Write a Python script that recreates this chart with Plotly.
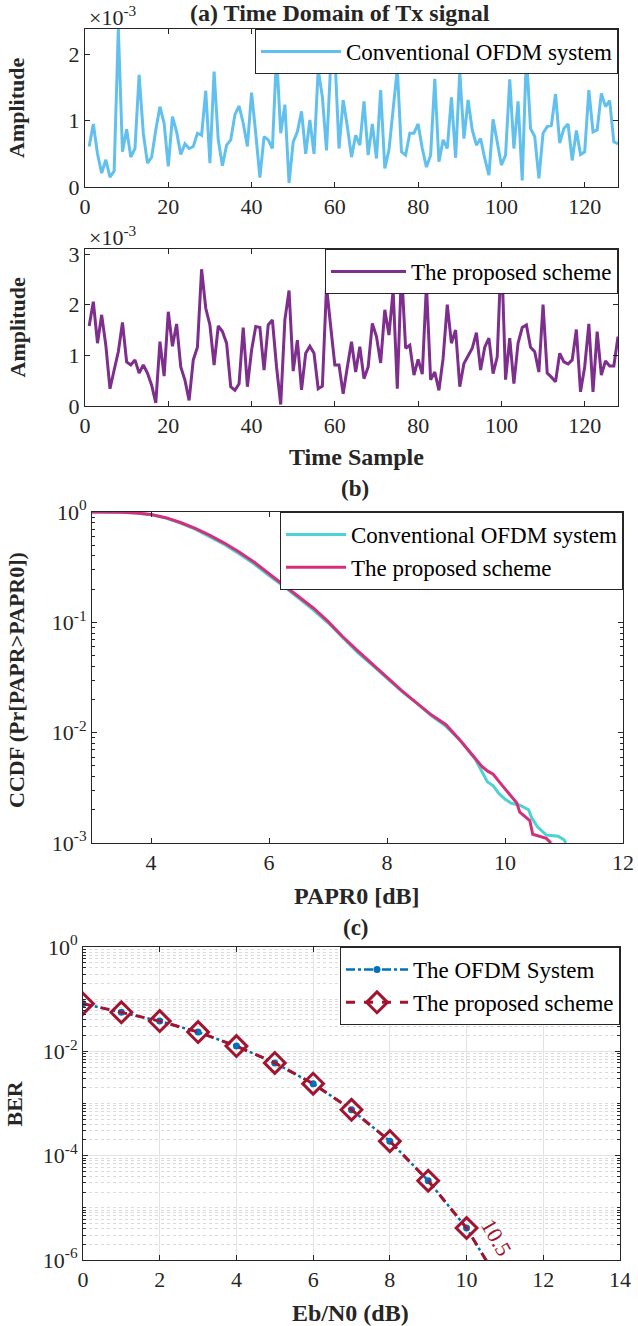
import plotly.graph_objects as go

# (a) time domain, conventional OFDM (amplitude in units of 1e-3)
samples = list(range(1, 129))
amp_conv = [0.61, 0.95, 0.50, 0.21, 0.41, 0.15, 0.24, 2.38, 0.53, 0.87,
            0.45, 0.58, 1.69, 0.81, 0.36, 0.45, 0.86, 1.21, 0.96, 0.31,
            1.06, 0.83, 0.49, 0.65, 0.58, 0.61, 0.81, 0.78, 1.45, 0.36,
            1.74, 0.71, 0.32, 0.63, 0.71, 1.09, 1.22, 0.96, 0.61, 1.42,
            0.81, 0.14, 0.76, 0.71, 0.58, 2.00, 0.81, 1.24, 0.06, 0.68,
            0.83, 1.14, 0.50, 1.01, 0.50, 1.77, 1.36, 0.55, 1.85, 2.00,
            0.58, 1.31, 0.91, 0.45, 0.78, 0.63, 1.29, 0.48, 0.95, 0.43,
            1.46, 0.28, 0.56, 1.16, 1.78, 0.53, 0.48, 0.81, 0.81, 0.95,
            0.58, 0.30, 0.48, 1.63, 0.38, 0.71, 0.58, 1.35, 0.44, 1.73,
            0.73, 1.31, 0.86, 0.63, 0.73, 0.43, 0.18, 1.02, 0.66, 0.33,
            0.48, 1.62, 0.58, 1.29, 0.10, 2.00, 0.88, 0.76, 0.13, 0.81,
            0.91, 0.93, 1.40, 0.66, 0.88, 0.95, 0.40, 0.85, 0.49, 0.53,
            1.46, 0.83, 0.86, 1.41, 1.21, 1.30, 0.68, 0.65]

# (a) time domain, proposed scheme (amplitude in units of 1e-3)
amp_prop = [1.58, 2.06, 1.24, 1.80, 1.20, 0.34, 0.71, 1.07, 1.65, 0.87,
            0.81, 0.91, 0.65, 0.81, 0.65, 0.41, 0.06, 1.27, 0.59, 1.86,
            1.18, 1.62, 0.77, 0.51, 0.11, 0.91, 1.16, 2.70, 1.93, 1.60,
            0.81, 1.58, 1.47, 1.24, 0.38, 0.31, 0.44, 1.55, 0.38, 1.10,
            1.57, 1.55, 0.71, 1.60, 1.70, 0.77, 0.03, 1.70, 2.28, 0.69,
            1.30, 0.32, 1.04, 1.18, 1.04, 0.34, 0.39, 2.36, 1.57, 0.81,
            0.81, 0.24, 0.77, 1.27, 0.67, 1.17, 0.54, 0.77, 1.63, 1.37,
            0.85, 1.90, 1.40, 2.29, 0.34, 2.70, 1.14, 1.20, 0.61, 0.92,
            0.63, 2.39, 0.52, 0.67, 0.31, 0.94, 2.00, 1.24, 1.50, 0.38,
            0.84, 1.00, 1.14, 1.45, 0.71, 1.16, 1.34, 0.64, 0.97, 3.10,
            0.52, 1.34, 0.44, 1.24, 1.55, 1.60, 1.16, 1.07, 0.67, 2.00,
            0.65, 0.57, 0.48, 1.04, 0.87, 0.83, 0.91, 1.51, 0.28, 0.77,
            1.62, 0.28, 1.47, 0.61, 0.89, 0.79, 0.79, 1.37]

# (b) CCDF of PAPR
papr_conv = [3.0, 3.25, 3.5, 3.75, 4.0, 4.25, 4.5, 4.75, 5.0, 5.25, 5.5, 5.75,
             6.0, 6.25, 6.5, 6.75, 7.0, 7.25, 7.5, 7.75, 8.0, 8.25, 8.5, 8.75,
             9.0, 9.25, 9.5, 9.6, 9.7, 9.8, 9.9, 10.0, 10.1, 10.25, 10.4, 10.45,
             10.55, 10.7, 10.9, 11.0, 11.03]
ccdf_conv = [1.0, 1.0, 0.997, 0.98, 0.946, 0.882, 0.795, 0.70, 0.60, 0.506,
             0.416, 0.338, 0.265, 0.212, 0.166, 0.130, 0.099, 0.072, 0.0535,
             0.041, 0.0313, 0.0237, 0.0186, 0.0143, 0.0114, 0.0084, 0.0057,
             0.0046, 0.0036, 0.0033, 0.0028, 0.0025, 0.0023, 0.0022, 0.0020,
             0.0017, 0.0014, 0.00118, 0.00115, 0.00107, 0.001]
papr_prop = [3.0, 3.25, 3.5, 3.75, 4.0, 4.25, 4.5, 4.75, 5.0, 5.25, 5.5, 5.75,
             6.0, 6.25, 6.5, 6.75, 7.0, 7.25, 7.5, 7.75, 8.0, 8.25, 8.5, 8.75,
             9.0, 9.25, 9.5, 9.6, 9.7, 9.8, 9.9, 10.0, 10.1, 10.2, 10.25, 10.35,
             10.42, 10.47, 10.7, 10.78]
ccdf_prop = [1.0, 1.0, 0.997, 0.98, 0.948, 0.888, 0.803, 0.71, 0.614, 0.52,
             0.431, 0.35, 0.276, 0.221, 0.172, 0.135, 0.102, 0.074, 0.0554,
             0.042, 0.0318, 0.024, 0.0186, 0.0145, 0.0118, 0.0084, 0.0058,
             0.0050, 0.0045, 0.0042, 0.0036, 0.0031, 0.0027, 0.0023, 0.0019,
             0.0017, 0.0016, 0.0012, 0.0011, 0.001]

# (c) BER
ebn0 = [0, 1, 2, 3, 4, 5, 6, 7, 8, 9, 10, 11]
ber_ofdm = [0.082, 0.056, 0.038, 0.0234, 0.0126, 0.0060, 0.0024, 7.6e-4,
            1.9e-4, 3.3e-5, 4.1e-6, 2.5e-7]
ber_prop = [0.082, 0.056, 0.038, 0.0234, 0.0126, 0.0060, 0.0024, 7.6e-4,
            1.9e-4, 3.3e-5, 4.1e-6, 2.5e-7]

W, H = 638, 1326
FONT = "Liberation Serif, Times New Roman, serif"
TXT = "#262626"


def px_x(p):
    return p / W


def px_y(p):
    return 1 - p / H


fig = go.Figure()

fig.add_trace(go.Scatter(x=samples, y=amp_conv, mode="lines", name="Conventional OFDM system",
                         line=dict(color="#62C0EE", width=3), xaxis="x", yaxis="y", legend="legend"))
fig.add_trace(go.Scatter(x=samples, y=amp_prop, mode="lines", name="The proposed scheme",
                         line=dict(color="#7E2F8E", width=3), xaxis="x2", yaxis="y2", legend="legend2"))
fig.add_trace(go.Scatter(x=papr_conv, y=ccdf_conv, mode="lines", name="Conventional OFDM system",
                         line=dict(color="#4CD2D2", width=3), xaxis="x3", yaxis="y3", legend="legend3"))
fig.add_trace(go.Scatter(x=papr_prop, y=ccdf_prop, mode="lines", name="The proposed scheme",
                         line=dict(color="#D3307C", width=3), xaxis="x3", yaxis="y3", legend="legend3"))
fig.add_trace(go.Scatter(x=ebn0, y=ber_ofdm, mode="lines+markers", name="The OFDM System",
                         line=dict(color="#0072BD", width=2.5, dash="dashdot"),
                         marker=dict(symbol="circle", size=7, color="#0072BD"),
                         xaxis="x4", yaxis="y4", legend="legend4"))
fig.add_trace(go.Scatter(x=ebn0, y=ber_prop, mode="lines+markers", name="The proposed scheme",
                         line=dict(color="#A2142F", width=3, dash="dash"),
                         marker=dict(symbol="diamond-open", size=16, color="#A2142F",
                                     line=dict(color="#A2142F", width=3)),
                         xaxis="x4", yaxis="y4", legend="legend4"))

axis_common = dict(showline=True, linecolor=TXT, linewidth=1, mirror="ticks", ticks="inside",
                   ticklen=5, tickcolor=TXT, tickfont=dict(family=FONT, size=22, color=TXT),
                   showgrid=False, zeroline=False, automargin=False)

dom_a_x = [px_x(85), px_x(618)]
dom_a_y = [px_y(187), px_y(29)]
dom_b_y = [px_y(406), px_y(249)]
dom_c_x = [px_x(92), px_x(623)]
dom_c_y = [px_y(843), px_y(512)]
dom_d_x = [px_x(83), px_x(620)]
dom_d_y = [px_y(1260), px_y(947)]

sup = lambda e: "10<sup>%d</sup>" % e
ccdf_major = [1, 0.1, 0.01, 0.001]
ccdf_minor = [k * 10 ** d for d in (-3, -2, -1) for k in range(2, 10)]
ber_major = [1, 1e-2, 1e-4, 1e-6]
ber_minor = [k * 10 ** d for d in (-6, -5, -4, -3, -2, -1) for k in range(1, 10)
             if not (k == 1 and d in (-6, -4, -2))]

fig.update_layout(
    template="none",
    width=W, height=H, margin=dict(l=0, r=0, t=0, b=0, autoexpand=False),
    paper_bgcolor="white", plot_bgcolor="white", showlegend=True,
    font=dict(family=FONT, color=TXT),
    xaxis=dict(axis_common, domain=dom_a_x, anchor="y", range=[0, 128], tickvals=[0, 20, 40, 60, 80, 100, 120]),
    yaxis=dict(axis_common, domain=dom_a_y, anchor="x", range=[0, max(amp_conv)], tickvals=[0, 1, 2]),
    xaxis2=dict(axis_common, domain=dom_a_x, anchor="y2", range=[0, 128], tickvals=[0, 20, 40, 60, 80, 100, 120]),
    yaxis2=dict(axis_common, domain=dom_b_y, anchor="x2", range=[0, max(amp_prop)], tickvals=[0, 1, 2, 3]),
    xaxis3=dict(axis_common, domain=dom_c_x, anchor="y3", range=[3, 12], tickvals=[4, 6, 8, 10, 12]),
    yaxis3=dict(axis_common, domain=dom_c_y, anchor="x3", type="log", range=[-3, 0],
                tickvals=ccdf_major, ticktext=[sup(e) for e in (0, -1, -2, -3)],
                minor=dict(ticks="inside", ticklen=3, tickcolor=TXT, tickvals=ccdf_minor)),
    xaxis4=dict(axis_common, domain=dom_d_x, anchor="y4", range=[0, 14], tickvals=list(range(0, 15, 2)),
                showgrid=True, gridcolor="#E3E3E3", gridwidth=1),
    yaxis4=dict(axis_common, domain=dom_d_y, anchor="x4", type="log", range=[-6, 0],
                tickvals=ber_major, ticktext=[sup(e) for e in (0, -2, -4, -6)],
                showgrid=True, gridcolor="#E3E3E3", gridwidth=1,
                minor=dict(ticks="inside", ticklen=3, tickcolor=TXT, tickvals=ber_minor,
                           showgrid=True, gridcolor="#DADADA", griddash="dot", gridwidth=1)),
)

leg_common = dict(bgcolor="white", bordercolor=TXT, borderwidth=1, xanchor="right", yanchor="top",
                  font=dict(family=FONT, size=23, color="black"), tracegroupgap=0)
fig.update_layout(
    legend=dict(leg_common, x=px_x(618), y=px_y(29), visible=True, itemwidth=80),
    legend2=dict(leg_common, x=px_x(618), y=px_y(249), itemwidth=75),
    legend3=dict(leg_common, x=px_x(623), y=px_y(512), itemwidth=60),
    legend4=dict(leg_common, x=px_x(620), y=px_y(947), itemwidth=62),
)

ann = []


def text(x, y, s, size=22, bold=True, angle=0, xanchor="center", color=TXT):
    ann.append(dict(x=x, y=y, xref="paper", yref="paper", text=("<b>%s</b>" % s) if bold else s,
                    showarrow=False, textangle=angle, xanchor=xanchor, yanchor="middle",
                    font=dict(family=FONT, size=size, color=color)))


text(px_x(340), px_y(13), "(a) Time Domain of Tx signal", size=24)
text(px_x(87), px_y(16), "×10<sup>-3</sup>", bold=False, xanchor="left")
text(px_x(87), px_y(236), "×10<sup>-3</sup>", bold=False, xanchor="left")
text(px_x(17), (dom_a_y[0] + dom_a_y[1]) / 2, "Amplitude", angle=-90)
text(px_x(17), (dom_b_y[0] + dom_b_y[1]) / 2, "Amplitude", angle=-90)
text(px_x(356), px_y(457), "Time Sample", size=24)
text(px_x(355), px_y(488), "(b)", size=23)
text(px_x(17), px_y(680), "CCDF (Pr[PAPR>PAPR0])", angle=-90)
text(px_x(357), px_y(896), "PAPR0 [dB]", size=24)
text(px_x(356), px_y(928), "(c)", size=23)
text(px_x(14), (dom_d_y[0] + dom_d_y[1]) / 2, "BER", angle=-90)
text(px_x(350), px_y(1313), "Eb/N0 (dB)", size=24)

# data label on the BER curve
ann.append(dict(x=10.78, y=-5.57, xref="x4", yref="y4", text="10.5", showarrow=False,
                textangle=60, font=dict(family=FONT, size=22, color="#A2142F")))

fig.update_layout(annotations=ann)

# page has no default body margin so the figure fills the window exactly
fig.write_html("out.html", config={"displayModeBar": False},
               post_script="document.body.style.margin='0';")
